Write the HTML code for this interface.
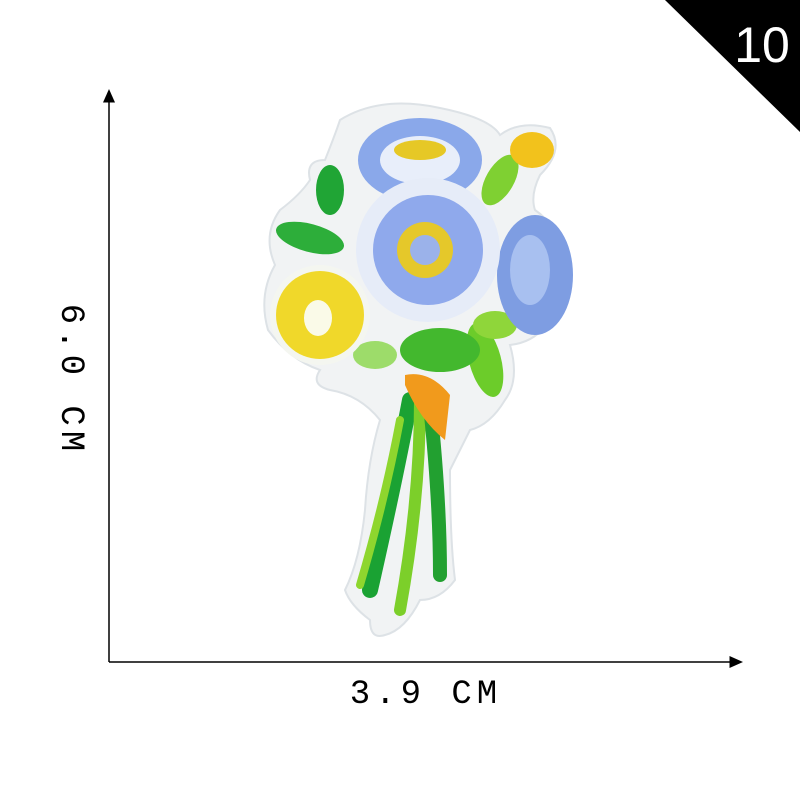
<!DOCTYPE html>
<html><head><meta charset="utf-8"><style>
html,body{margin:0;padding:0;background:#fff;width:800px;height:800px;overflow:hidden}
svg{display:block}
</style></head><body>
<svg width="800" height="800" viewBox="0 0 800 800">
<defs>
<marker id="ah" markerWidth="10" markerHeight="10" refX="5" refY="5" orient="auto"><path d="M0,1 L9,5 L0,9 Z" fill="#000"/></marker>
</defs>
<g>
<path d="M340,120 Q380,95 440,108 Q490,118 500,135 Q520,120 550,128 Q565,150 540,175 Q530,195 535,210 Q565,230 560,280 Q555,340 510,345 Q520,380 505,400 Q490,425 470,430 L450,470 Q450,540 455,580 Q440,600 420,600 Q405,630 385,635 Q370,640 370,620 Q350,605 345,590 Q360,560 365,510 Q368,460 380,420 Q360,395 330,390 Q310,385 320,370 Q290,360 268,330 Q258,295 275,265 Q262,235 280,210 Q300,195 310,180 Q305,160 325,160 Q335,135 340,120 Z" fill="#f1f3f4" stroke="#dde2e6" stroke-width="2"/>
<g stroke-linecap="round" fill="none">
<path d="M410,400 Q395,480 370,590" stroke="#1aa233" stroke-width="16"/>
<path d="M420,400 Q420,500 400,610" stroke="#7ccf2a" stroke-width="12"/>
<path d="M430,405 Q440,500 440,575" stroke="#22a030" stroke-width="14"/>
<path d="M400,420 Q385,500 360,585" stroke="#8ed62e" stroke-width="8"/>
</g>
<g>
<ellipse cx="310" cy="238" rx="35" ry="14" transform="rotate(15 310 238)" fill="#2dae3a"/>
<ellipse cx="330" cy="190" rx="14" ry="25" fill="#20a535"/>
<ellipse cx="485" cy="360" rx="16" ry="38" transform="rotate(-15 485 360)" fill="#6ccc2a"/>
<ellipse cx="495" cy="325" rx="22" ry="14" fill="#8fd63a"/>
<ellipse cx="440" cy="350" rx="40" ry="22" fill="#43b82e"/>
<ellipse cx="375" cy="355" rx="22" ry="14" fill="#9ddc6a"/>
<ellipse cx="500" cy="180" rx="14" ry="28" transform="rotate(30 500 180)" fill="#7fd032"/>
</g>
<g>
<ellipse cx="420" cy="160" rx="62" ry="42" fill="#8aa8ea"/>
<ellipse cx="420" cy="160" rx="40" ry="24" fill="#e8eefa"/>
<ellipse cx="420" cy="150" rx="26" ry="10" fill="#e6c826"/>
<ellipse cx="535" cy="275" rx="38" ry="60" fill="#7e9de2"/>
<ellipse cx="530" cy="270" rx="20" ry="35" fill="#a8c0f0"/>
<circle cx="428" cy="250" r="72" fill="#e6ecf8"/>
<circle cx="428" cy="250" r="55" fill="#8fa9ec"/>
<circle cx="425" cy="250" r="28" fill="#e5c82a"/>
<circle cx="425" cy="250" r="15" fill="#9bb2ea"/>
<circle cx="320" cy="315" r="50" fill="#f4f6f0"/>
<circle cx="320" cy="315" r="44" fill="#f0d82a"/>
<ellipse cx="318" cy="318" rx="14" ry="18" fill="#fafae8"/>
<ellipse cx="532" cy="150" rx="22" ry="18" fill="#f2c21c"/>
<path d="M405,375 Q430,370 450,395 L445,440 Q420,420 405,385 Z" fill="#f19a1c"/>
</g>
</g>
<g>
<line x1="109" y1="662" x2="109" y2="95" stroke="#000" stroke-width="1.5" marker-end="url(#ah)"/>
<line x1="109" y1="662" x2="737" y2="662" stroke="#000" stroke-width="1.5" marker-end="url(#ah)"/>
<text x="426" y="703" text-anchor="middle" font-family="Liberation Mono, monospace" font-size="34" letter-spacing="5" fill="#000">3.9 CM</text>
<text transform="translate(62 380) rotate(90)" text-anchor="middle" font-family="Liberation Mono, monospace" font-size="34" letter-spacing="5" fill="#000">6.0 CM</text>
</g>
<g>
<polygon points="665,0 800,0 800,132" fill="#000"/>
<text x="762" y="62" text-anchor="middle" font-family="Liberation Sans, sans-serif" font-size="50" fill="#fff">10</text>
</g>
</svg>
</body></html>
